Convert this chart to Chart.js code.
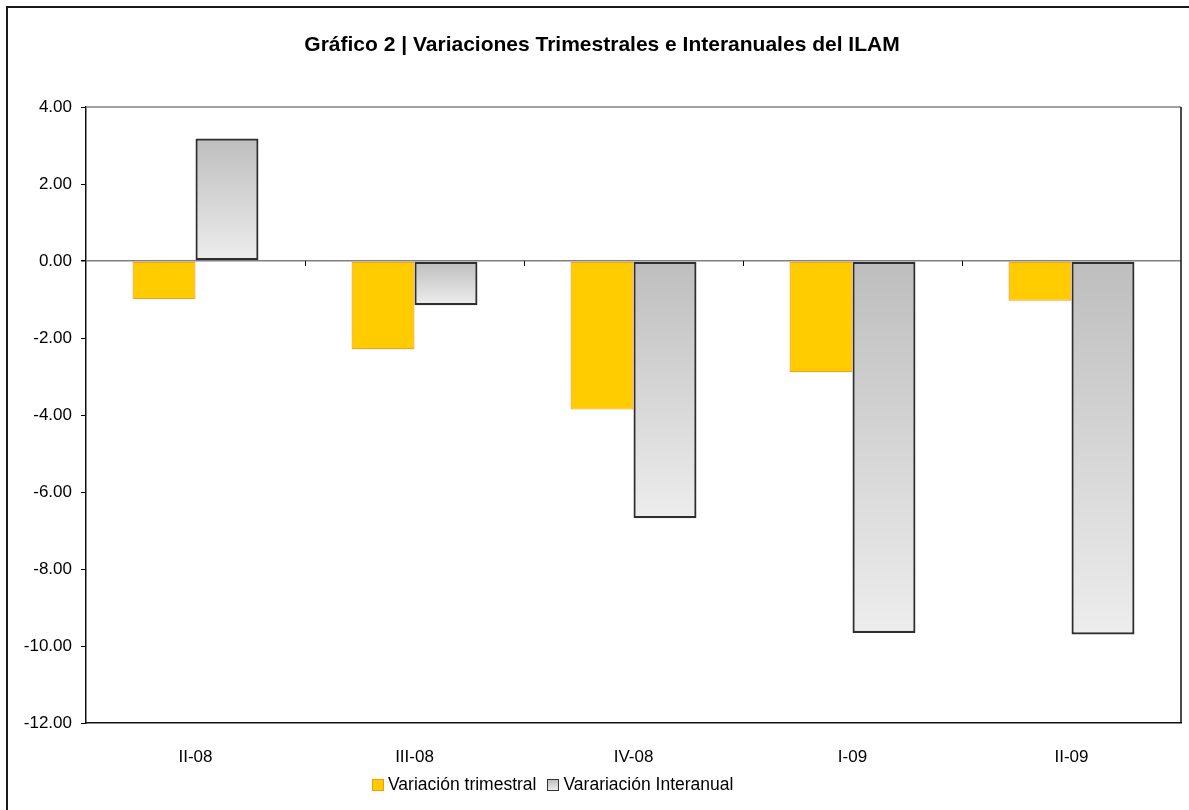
<!DOCTYPE html>
<html>
<head>
<meta charset="utf-8">
<script src="https://cdn.jsdelivr.net/npm/chart.js@4.4.1/dist/chart.umd.min.js"></script>
<style>
  html, body { margin: 0; padding: 0; background: #fff; }
  #wrap { position: relative; width: 1189px; height: 810px; overflow: hidden; }
  #c { position: absolute; left: 0; top: 0; }
  #frame { position: absolute; left: 6px; top: 6px; width: 1300px; height: 900px;
           border-left: 2px solid #1a1a1a; border-top: 2px solid #1a1a1a; pointer-events: none; }
  #legend { position: absolute; left: 372px; top: 773px; font-family: "Liberation Sans", Arial, sans-serif;
            font-size: 17.5px; color: #000; white-space: nowrap; line-height: 22px; }
  .item { display: inline-block; margin-right: 11px; }
  .box { display: inline-block; width: 10px; height: 10px; vertical-align: -1px; margin-right: 4px; }
  .b1 { background: #ffcc00; border: 1px solid #ff9900; }
  .b2 { background: linear-gradient(#c0c0c0, #ececec); border: 1px solid #333; }
</style>
</head>
<body>
<div id="wrap">
  <canvas id="c" width="1189" height="810"></canvas>
  <div id="frame"></div>
  <div id="legend"></div>
</div>
<script>
const categories = ["II-08", "III-08", "IV-08", "I-09", "II-09"];
const seriesNames = ["Variación trimestral", "Varariación Interanual"];
const variacionTrimestral = [-0.99, -2.29, -3.86, -2.89, -1.03];
const variacionInteranual = [3.18, -1.15, -6.68, -9.66, -9.70];
const chartTitle = "Gráfico 2 | Variaciones Trimestrales e Interanuales del ILAM";

const FONT = '"Liberation Sans", Arial, sans-serif';

function grayGradient(context) {
  const chart = context.chart;
  const area = chart.chartArea;
  if (!area || context.dataIndex === undefined) return '#d0d0d0';
  const y = chart.scales.y;
  const v = context.dataset.data[context.dataIndex];
  const p0 = y.getPixelForValue(0);
  const p1 = y.getPixelForValue(v);
  const top = Math.min(p0, p1), bottom = Math.max(p0, p1);
  if (bottom - top < 1) return '#d0d0d0';
  const g = chart.ctx.createLinearGradient(0, top, 0, bottom);
  g.addColorStop(0, '#bebebe');
  g.addColorStop(1, '#ededed');
  return g;
}

const framePlugin = {
  id: 'framePlugin',
  afterDraw(chart) {
    const {ctx, chartArea: a, scales} = chart;
    ctx.save();
    ctx.strokeStyle = '#808080';
    ctx.lineWidth = 1.5;
    ctx.beginPath(); ctx.moveTo(a.left, a.top); ctx.lineTo(a.right, a.top); ctx.stroke();
    ctx.strokeStyle = '#111';
    ctx.beginPath(); ctx.moveTo(a.right, a.top); ctx.lineTo(a.right, a.bottom); ctx.stroke();
    const y0 = scales.y.getPixelForValue(0);
    const n = categories.length;
    ctx.strokeStyle = '#000';
    ctx.lineWidth = 1;
    for (let i = 1; i < n; i++) {
      const x = Math.round(a.left + i * (a.right - a.left) / n) + 0.5;
      ctx.beginPath(); ctx.moveTo(x, y0); ctx.lineTo(x, y0 + 5); ctx.stroke();
    }
    ctx.restore();
  }
};

new Chart(document.getElementById('c'), {
  type: 'bar',
  data: {
    labels: categories,
    datasets: [
      {
        label: seriesNames[0],
        data: variacionTrimestral,
        backgroundColor: '#ffcc00',
        borderColor: '#ff9c1a',
        borderWidth: 1.2,
        borderSkipped: false,
        barPercentage: 1.0,
        categoryPercentage: 0.575
      },
      {
        label: seriesNames[1],
        data: variacionInteranual,
        backgroundColor: grayGradient,
        borderColor: '#2e2e2e',
        borderWidth: 2.2,
        borderSkipped: false,
        barPercentage: 1.0,
        categoryPercentage: 0.575
      }
    ]
  },
  options: {
    responsive: false,
    animation: false,
    devicePixelRatio: 1,
    layout: { padding: { left: 23, right: 8, top: 0, bottom: 0 } },
    plugins: {
      legend: { display: false },
      tooltip: { enabled: false },
      title: {
        display: true,
        text: chartTitle,
        color: '#000',
        font: { family: FONT, size: 21, weight: 'bold', lineHeight: 1.2 },
        padding: { top: 32.4, bottom: 49.4 }
      }
    },
    scales: {
      x: {
        grid: { display: false },
        border: { display: true, color: '#111', width: 1.5 },
        ticks: { color: '#000', font: { family: FONT, size: 17 }, padding: 16 },
        afterFit(scale) { scale.height = 87; }
      },
      y: {
        min: -12,
        max: 4,
        ticks: {
          stepSize: 2,
          color: '#000',
          font: { family: FONT, size: 17 },
          padding: 9,
          callback: (v) => Number(v).toFixed(2)
        },
        grid: {
          drawOnChartArea: true,
          tickLength: 5,
          tickColor: '#000',
          color: (ctx) => (ctx.tick && ctx.tick.value === 0) ? '#808080' : 'rgba(0,0,0,0)',
          lineWidth: (ctx) => (ctx.tick && ctx.tick.value === 0) ? 1.5 : 1
        },
        border: { display: true, color: '#111', width: 1.5 },
        afterFit(scale) { scale.width = 63; }
      }
    }
  },
  plugins: [framePlugin]
});

const legendEl = document.getElementById('legend');
seriesNames.forEach((name, i) => {
  const item = document.createElement('span');
  item.className = 'item';
  const box = document.createElement('span');
  box.className = 'box ' + (i === 0 ? 'b1' : 'b2');
  item.appendChild(box);
  item.appendChild(document.createTextNode(name));
  legendEl.appendChild(item);
});
</script>
</body>
</html>
